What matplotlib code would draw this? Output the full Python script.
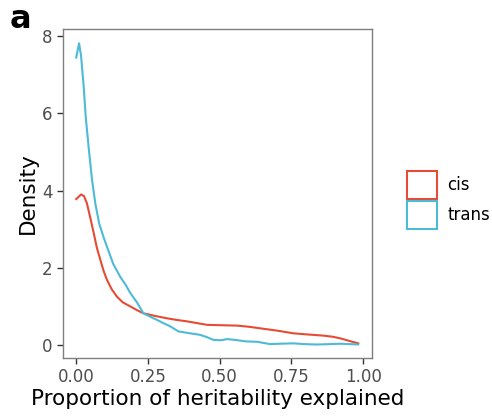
import matplotlib
matplotlib.use("Agg")
import matplotlib.pyplot as plt
from matplotlib.patches import Patch

# Data
cis_x = [0.0, 0.017, 0.027, 0.037, 0.049, 0.061, 0.072, 0.084, 0.095, 0.107, 0.124, 0.142,
         0.163, 0.188, 0.212, 0.234, 0.275, 0.316, 0.348, 0.386, 0.417, 0.456, 0.505, 0.560,
         0.602, 0.641, 0.700, 0.757, 0.807, 0.862, 0.895, 0.920, 0.953, 0.983]
cis_y = [3.78, 3.90, 3.86, 3.68, 3.30, 2.90, 2.52, 2.21, 1.93, 1.69, 1.44, 1.25,
         1.10, 1.00, 0.90, 0.82, 0.75, 0.69, 0.65, 0.61, 0.57, 0.52, 0.51, 0.50,
         0.47, 0.43, 0.37, 0.30, 0.27, 0.24, 0.21, 0.17, 0.10, 0.04]

trans_x = [0.0, 0.010, 0.017, 0.026, 0.033, 0.043, 0.055, 0.067, 0.080, 0.095, 0.107, 0.129,
           0.153, 0.173, 0.188, 0.212, 0.234, 0.261, 0.281, 0.305, 0.328, 0.356, 0.397, 0.432,
           0.456, 0.478, 0.505, 0.525, 0.553, 0.592, 0.631, 0.676, 0.709, 0.756, 0.797, 0.838,
           0.885, 0.920, 0.953, 0.983]
trans_y = [7.45, 7.82, 7.49, 6.71, 5.93, 5.15, 4.29, 3.65, 3.15, 2.80, 2.55, 2.10,
           1.77, 1.55, 1.35, 1.10, 0.82, 0.72, 0.65, 0.56, 0.48, 0.35, 0.30, 0.26,
           0.20, 0.13, 0.12, 0.15, 0.13, 0.09, 0.08, 0.02, 0.03, 0.04, 0.02, 0.01,
           0.02, 0.03, 0.02, 0.01]

x_ticks = [0.0, 0.25, 0.5, 0.75, 1.0]
x_ticklabels = ["0.00", "0.25", "0.50", "0.75", "1.00"]
y_ticks = [0, 2, 4, 6, 8]

series_names = ["cis", "trans"]
colors = ["#E64B35", "#4DBBD5"]

plt.rcParams['font.family'] = ['DejaVu Sans']
fig = plt.figure(figsize=(4.92, 4.19), dpi=100)
ax = fig.add_axes([63/492, 1 - 358/419, 309/492, 329/419])

ax.plot(cis_x, cis_y, color=colors[0], lw=1.5)
ax.plot(trans_x, trans_y, color=colors[1], lw=1.5)

ax.set_xlim(-0.046, 1.031)
ax.set_ylim(-0.34, 8.19)
ax.set_xticks(x_ticks)
ax.set_xticklabels(x_ticklabels)
ax.set_yticks(y_ticks)
ax.tick_params(axis='both', labelsize=12, colors='#333333', labelcolor='#4d4d4d',
               length=4, width=1)
for sp in ax.spines.values():
    sp.set_color('#7f7f7f')
    sp.set_linewidth(1.0)
ax.set_xlabel("Proportion of heritability explained", fontsize=15.5, labelpad=2)
ax.set_ylabel("Density", fontsize=15.5, labelpad=3)

handles = [Patch(facecolor='white', edgecolor=c, linewidth=1.5, label=n)
           for n, c in zip(series_names, colors)]
fig.legend(handles=handles, loc='center left', bbox_to_anchor=(392/492, 1 - 200/419),
           frameon=False, fontsize=12, handlelength=1.8, handleheight=2.2,
           handletextpad=0.6, labelspacing=0.1)

fig.text(10/492, 1 - 20/419, "a", fontsize=23, fontweight='bold', va='center', ha='left')

fig.savefig("out.png", dpi=100)
